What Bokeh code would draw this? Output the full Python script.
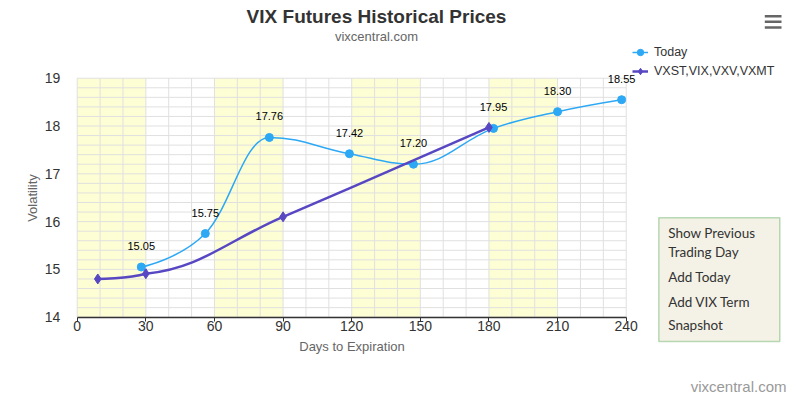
from bokeh.plotting import figure
from bokeh.models import (Range1d, FixedTicker, BoxAnnotation, Label, LabelSet,
                          ColumnDataSource, Legend, LegendItem)
from bokeh.core.properties import value
from bokeh.embed import file_html
from bokeh.resources import INLINE

# ---------------- data ----------------
today_days = [28, 56, 84, 119, 147, 182, 210, 238]
today_vals = [15.05, 15.75, 17.76, 17.42, 17.20, 17.95, 18.30, 18.55]
term_days = [9, 30, 90, 180]
term_vals = [14.80, 14.91, 16.10, 17.97]
x_ticks = [0, 30, 60, 90, 120, 150, 180, 210, 240]
x_minor = list(range(0, 241, 10))
y_ticks = [14, 15, 16, 17, 18, 19]
y_minor = [round(14 + 0.2 * i, 1) for i in range(26)]
band_starts = [0, 60, 120, 180]
band_len = 30
buttons = ["Show Previous", "Trading Day", "Add Today", "Add VIX Term", "Snapshot"]

BLUE = "#2CA8F5"
PURPLE = "#5747C2"
FONT = "Liberation Sans"

# ---------------- layout (pixels) ----------------
W, H = 796, 396
PX_L, PX_R = 76.7, 625.7      # plot area left / right
PX_T, PX_B = 77.7, 316.7      # plot area top / bottom
xmin, xmax = x_ticks[0], x_ticks[-1]
ymin, ymax = y_ticks[0], y_ticks[-1]
kx = (PX_R - PX_L) / (xmax - xmin)
ky = (PX_B - PX_T) / (ymax - ymin)
x_start, x_end = xmin - PX_L / kx, xmax + (W - PX_R) / kx
y_start, y_end = ymin - (H - PX_B) / ky, ymax + PX_T / ky


def sy(py):  # page y (top-down) -> screen y (bottom-up)
    return H - py


def spline(xs, ys):
    """Highcharts-style spline control points -> bezier segments."""
    n = len(xs)
    lc = [(x, y) for x, y in zip(xs, ys)]
    rc = [(x, y) for x, y in zip(xs, ys)]
    sm, den = 1.5, 2.5
    for i in range(1, n - 1):
        px, py = xs[i], ys[i]
        lx, ly = xs[i - 1], ys[i - 1]
        nx, ny = xs[i + 1], ys[i + 1]
        lcx = (sm * px + lx) / den
        lcy = (sm * py + ly) / den
        rcx = (sm * px + nx) / den
        rcy = (sm * py + ny) / den
        if rcx != lcx:
            corr = ((rcy - lcy) * (rcx - px)) / (rcx - lcx) + py - rcy
            lcy += corr
            rcy += corr
        if lcy > ly and lcy > py:
            lcy = max(ly, py); rcy = 2 * py - lcy
        elif lcy < ly and lcy < py:
            lcy = min(ly, py); rcy = 2 * py - lcy
        if rcy > ny and rcy > py:
            rcy = max(ny, py); lcy = 2 * py - rcy
        elif rcy < ny and rcy < py:
            rcy = min(ny, py); lcy = 2 * py - rcy
        lc[i] = (lcx, lcy)
        rc[i] = (rcx, rcy)
    d = dict(x0=[], y0=[], x1=[], y1=[], cx0=[], cy0=[], cx1=[], cy1=[])
    for i in range(1, n):
        d["x0"].append(xs[i - 1]); d["y0"].append(ys[i - 1])
        d["x1"].append(xs[i]); d["y1"].append(ys[i])
        d["cx0"].append(rc[i - 1][0]); d["cy0"].append(rc[i - 1][1])
        d["cx1"].append(lc[i][0]); d["cy1"].append(lc[i][1])
    return ColumnDataSource(d)


p = figure(width=W, height=H, x_range=Range1d(x_start, x_end),
           y_range=Range1d(y_start, y_end), output_backend="svg",
           toolbar_location=None, title=None,
           min_border_left=0, min_border_right=0, min_border_top=0, min_border_bottom=0)
p.outline_line_color = None
p.background_fill_color = "white"
p.border_fill_color = "white"
p.xgrid.visible = False
p.ygrid.visible = False

# ---------------- axes (fixed inside the frame) ----------------
xa = p.xaxis[0]
xa.fixed_location = ymin
xa.bounds = (xmin, xmax)
xa.ticker = FixedTicker(ticks=x_ticks, minor_ticks=x_minor)
xa.axis_line_color = "#333333"
xa.axis_line_width = 1.5
xa.major_tick_line_color = "#333333"
xa.major_tick_out = 4
xa.major_tick_in = 0
xa.minor_tick_line_color = None
xa.major_label_standoff = 0
xa.major_label_text_font = FONT
xa.major_label_text_font_size = "14px"
xa.major_label_text_color = "#333333"
xa.axis_label = "Days to Expiration"
xa.axis_label_text_font = FONT
xa.axis_label_text_font_size = "13px"
xa.axis_label_text_font_style = "normal"
xa.axis_label_text_color = "#666666"
xa.axis_label_standoff = 4

ya = p.yaxis[0]
ya.fixed_location = xmin
ya.bounds = (ymin, ymax)
ya.ticker = FixedTicker(ticks=y_ticks, minor_ticks=y_minor)
ya.axis_line_color = None
ya.major_tick_line_color = None
ya.minor_tick_line_color = None
ya.major_tick_out = 0
ya.minor_tick_out = 0
ya.major_label_standoff = 17
ya.major_label_text_font = FONT
ya.major_label_text_font_size = "14px"
ya.major_label_text_color = "#333333"
ya.axis_label = "Volatility"
ya.axis_label_text_font = FONT
ya.axis_label_text_font_size = "13px"
ya.axis_label_text_font_style = "normal"
ya.axis_label_text_color = "#666666"
ya.axis_label_standoff = 2

# ---------------- plot bands & grid ----------------
p.quad(left=band_starts, right=[s + band_len for s in band_starts],
       bottom=ymin, top=ymax, fill_color="#FDFED3", line_color=None)
p.segment(x0=x_minor, y0=ymin, x1=x_minor, y1=ymax, line_color="#E0E0E0", line_width=1)
p.segment(x0=xmin, y0=y_minor, x1=xmax, y1=y_minor, line_color="#E0E0E0", line_width=1)

# ---------------- series ----------------
p.bezier(x0="x0", y0="y0", x1="x1", y1="y1", cx0="cx0", cy0="cy0", cx1="cx1", cy1="cy1",
         source=spline(today_days, today_vals), line_color=BLUE, line_width=1.5)
lt = p.line(today_days, today_vals, line_color=BLUE, line_width=1.5, visible=False)
st = p.scatter(today_days, today_vals, marker="circle", size=8,
               fill_color=BLUE, line_color=BLUE)

p.bezier(x0="x0", y0="y0", x1="x1", y1="y1", cx0="cx0", cy0="cy0", cx1="cx1", cy1="cy1",
         source=spline(term_days, term_vals), line_color=PURPLE, line_width=2.5)
lp = p.line(term_days, term_vals, line_color=PURPLE, line_width=2.5, visible=False)
spp = p.scatter(term_days, term_vals, marker="diamond", size=10,
                fill_color=PURPLE, line_color=PURPLE)

# data labels
lbl_src = ColumnDataSource(dict(x=today_days, y=today_vals,
                                t=[f"{v:.2f}" for v in today_vals]))
p.add_layout(LabelSet(x="x", y="y", text="t", source=lbl_src, text_align="center",
                      text_baseline="middle", y_offset=21, text_font=value(FONT),
                      text_font_size=value("11px"), text_color="#000000"))

# ---------------- legend ----------------
legend = Legend(items=[LegendItem(label="Today", renderers=[lt, st]),
                       LegendItem(label="VXST,VIX,VXV,VXMT", renderers=[lp, spp])],
                location=(632, sy(79.3)))
legend.background_fill_alpha = 0
legend.border_line_color = None
legend.padding = 0
legend.margin = 0
legend.spacing = 3
legend.glyph_width = 16
legend.glyph_height = 16
legend.label_height = 16
legend.label_standoff = 6
legend.label_text_font = FONT
legend.label_text_font_size = "12.5px"
legend.label_text_color = "#333333"
p.add_layout(legend)


def text(x, base, t, size, color, align="left", bold=False, font=FONT, shift=0.37):
    # baseline in page pixels; Bokeh's text box sits ~shift*size lower
    fs = float(size.replace("px", ""))
    p.add_layout(Label(x=x, y=sy(base - shift * fs), x_units="screen", y_units="screen",
                       text=t, text_align=align, text_baseline="alphabetic",
                       text_font=font, text_font_size=size,
                       text_font_style="bold" if bold else "normal", text_color=color))


# ---------------- titles & credits ----------------
text(376, 22.7, "VIX Futures Historical Prices", "19px", "#333333", "center", bold=True)
text(376, 41.0, "vixcentral.com", "13px", "#666666", "center")
text(786, 391.5, "vixcentral.com", "15px", "#999999", "right")

# hamburger menu icon
for yc in (15.7, 21.3, 27.0):
    p.add_layout(BoxAnnotation(left=764.3, right=781, top=sy(yc - 1.2),
                               bottom=sy(yc + 1.2), left_units="screen",
                               right_units="screen", top_units="screen",
                               bottom_units="screen", fill_color="#666666",
                               fill_alpha=1, line_color=None))

# button box
p.add_layout(BoxAnnotation(left=658.3, right=779.3, top=sy(217.3), bottom=sy(341),
                           left_units="screen", right_units="screen", top_units="screen",
                           bottom_units="screen", fill_color="#F4F2E6", fill_alpha=1,
                           line_color="#1E8B1E", line_width=1.5))
for txt, base in zip(buttons, [238.3, 257.3, 281.7, 306.7, 330.0]):
    text(667.7, base, txt, "13.5px", "#333333", "left", font="Lato", shift=0.42)

open("out.html", "w").write(file_html(p, INLINE))
